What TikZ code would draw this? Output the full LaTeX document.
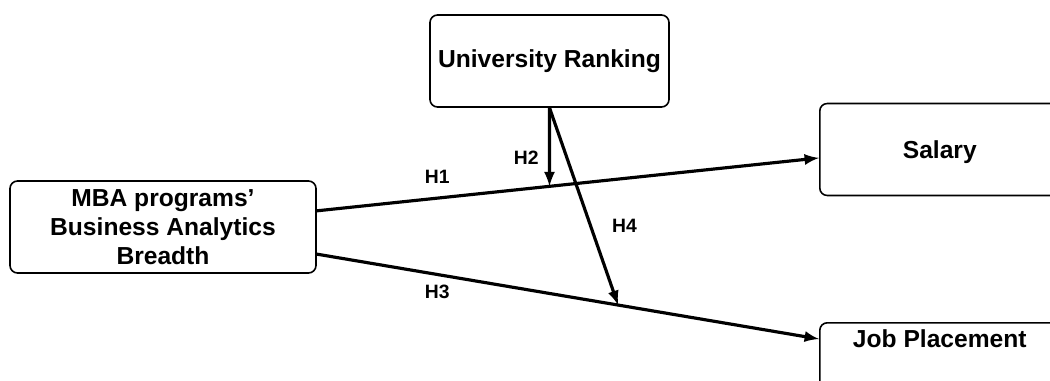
\documentclass[tikz,border=0pt]{standalone}
\usepackage{fontspec}
\setmainfont{Liberation Sans}
\usetikzlibrary{arrows}
\usetikzlibrary{calc, intersections, math}

\begin{document}
\begin{tikzpicture}[
box/.style={draw, line width=0.9pt, rounded corners=0.15cm, minimum height=1.84cm, align=center, font=\fontsize{14}{16.5}\selectfont\bfseries},
link/.style={-latex, line width=1.8pt},
hyp/.style={font=\fontsize{11}{13}\selectfont\bfseries}]
\tikzmath{
\W=21;
\H=7.62;
\xr=16.38;
}
\useasboundingbox (0,0) rectangle (\W,-\H);
\clip (0,0) rectangle (\W,-\H);
%boxes
\node[box, minimum width=4.78cm] (rank) at (10.99,-1.22) {University Ranking};
\node[box, minimum width=6.12cm] (mba) at (3.26,-4.54) {MBA programs'\\Business Analytics\\Breadth};
\node[box, minimum width=4.8cm, anchor=west, text depth=0pt] (salary) at (\xr,-2.99) {Salary};
\node[box, minimum width=4.8cm, anchor=north west, inner ysep=0.1cm, text height=0.4cm, text depth=1.24cm] (job) at (\xr,-6.44) {Job Placement};

%hypotheses
\coordinate (h3end) at ($(job.north west)+(0,-0.34)$);
\draw[link, name path=h1] (mba.6) -- node[hyp, pos=0.24, above=4pt]{H1} (salary.184);
\draw[link] (mba.-10) -- node[hyp, pos=0.24, below=2pt]{H3} (h3end);

\path[name path=down] (rank.south) -- ++(0,-3);
\draw[link, name intersections={of=h1 and down}] (rank.south) -- node[hyp, pos=0.64, left=2pt]{H2} (intersection-1);
\coordinate (h4end) at ($(mba.-10)!0.6!(h3end)$);
\draw[link] (rank.south) -- node[hyp, pos=0.6, right=8pt]{H4} (h4end);
\end{tikzpicture}
\end{document}
